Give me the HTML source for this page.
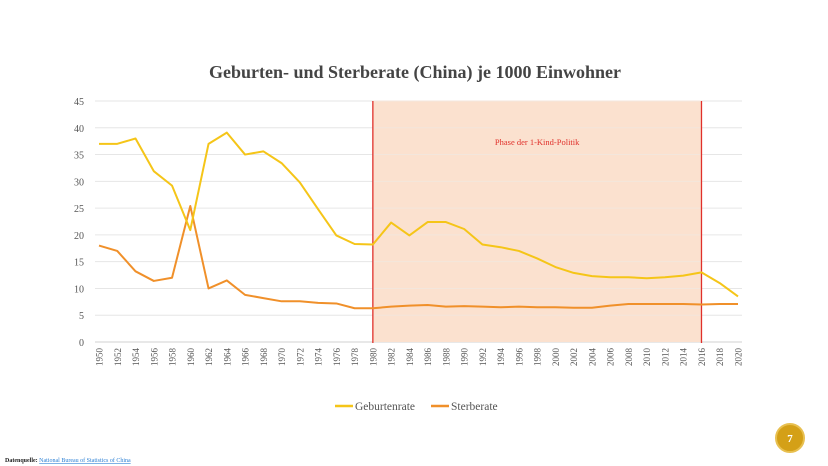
<!DOCTYPE html>
<html><head><meta charset="utf-8"><style>
body{margin:0;background:#fff;width:828px;height:466px;overflow:hidden;font-family:"Liberation Serif",serif}
svg{display:block}
</style></head><body>
<svg width="828" height="466" xmlns="http://www.w3.org/2000/svg">
<text x="415" y="78" text-anchor="middle" font-size="18" font-weight="bold" fill="#444">Geburten- und Sterberate (China) je 1000 Einwohner</text>
<g id="plot"></g>
<g>
<line x1="335" y1="406" x2="353" y2="406" stroke="#F5C518" stroke-width="2.5"/>
<text x="355" y="410" font-size="11.5" fill="#555">Geburtenrate</text>
<line x1="431" y1="406" x2="449" y2="406" stroke="#F0902A" stroke-width="2.5"/>
<text x="451" y="410" font-size="11.5" fill="#555">Sterberate</text>
</g>
<text x="5" y="462" font-size="6" font-weight="bold" fill="#222">Datenquelle: <tspan fill="#2a7fd4" text-decoration="underline" font-weight="normal">National Bureau of Statistics of China</tspan></text>
<circle cx="790" cy="438" r="14" fill="#D4A017" stroke="#E8C050" stroke-width="2"/>
<text x="790" y="442" text-anchor="middle" font-size="11" font-weight="bold" fill="#fff">7</text>
</svg>
<script>
const years=[1950,1952,1954,1956,1958,1960,1962,1964,1966,1968,1970,1972,1974,1976,1978,1980,1982,1984,1986,1988,1990,1992,1994,1996,1998,2000,2002,2004,2006,2008,2010,2012,2014,2016,2018,2020];
const birthRate=[37,37,38,31.9,29.2,20.9,37,39.1,35,35.6,33.4,29.8,24.8,19.9,18.3,18.2,22.3,19.9,22.4,22.4,21.1,18.2,17.7,17,15.6,14,12.9,12.3,12.1,12.1,11.9,12.1,12.4,13,11,8.5];
const deathRate=[18,17,13.2,11.4,12,25.4,10,11.5,8.8,8.2,7.6,7.6,7.3,7.2,6.3,6.3,6.6,6.8,6.9,6.6,6.7,6.6,6.5,6.6,6.5,6.5,6.4,6.4,6.8,7.1,7.1,7.1,7.1,7.0,7.1,7.1];
const yTicks=[0,5,10,15,20,25,30,35,40,45];
const phase=[1980,2016];
const phaseLabel="Phase der 1-Kind-Politik";
const NS="http://www.w3.org/2000/svg";
const g=document.getElementById('plot');
const X0=99,X1=738,Y0=342,Y1=101;
const x=v=>X0+(v-years[0])/(years[years.length-1]-years[0])*(X1-X0);
const y=v=>Y0-(v/45)*(Y0-Y1);
function mk(t,a){const e=document.createElementNS(NS,t);for(const k in a)e.setAttribute(k,a[k]);g.appendChild(e);return e;}
yTicks.forEach(t=>{
 const l=mk('line',{x1:95,x2:742,y1:y(t),y2:y(t),stroke:t===0?'#d0d0d0':'#e6e6e6','stroke-width':1});
 
 
 const tx=mk('text',{x:84,y:y(t)+4,'text-anchor':'end','font-size':10,fill:'#555'});tx.textContent=t;
 
 
});
const r=mk('rect',{x:x(phase[0]),y:Y1,width:x(phase[1])-x(phase[0]),height:Y0-Y1,fill:'#FBE1CF'});


yTicks.forEach(t=>{if(t>0){const l=mk('line',{x1:x(phase[0]),x2:x(phase[1]),y1:y(t),y2:y(t),stroke:'#f3e6dc','stroke-width':1});}});
phase.forEach(p=>{const l=mk('line',{x1:x(p),x2:x(p),y1:Y1,y2:Y0+1,stroke:'#E0302A','stroke-width':1.3});
 
 });
const pl=mk('text',{x:(x(phase[0])+x(phase[1]))/2,y:145,'text-anchor':'middle','font-size':8.5,fill:'#E0302A'});pl.textContent=phaseLabel;


years.forEach(yr=>{const t=mk('text',{transform:`translate(${x(yr)+3.5},348) rotate(-90)`,'text-anchor':'end','font-size':9,fill:'#555'});t.textContent=yr;
 
 });
function line(d,c,n){const p=mk('polyline',{points:d.map((v,i)=>x(years[i])+','+y(v)).join(' '),fill:'none',stroke:c,'stroke-width':2,'stroke-linejoin':'round'});
 
 }
line(deathRate,'#F0902A','sterberate-line');
line(birthRate,'#F5C518','geburtenrate-line');
</script>
</body></html>
